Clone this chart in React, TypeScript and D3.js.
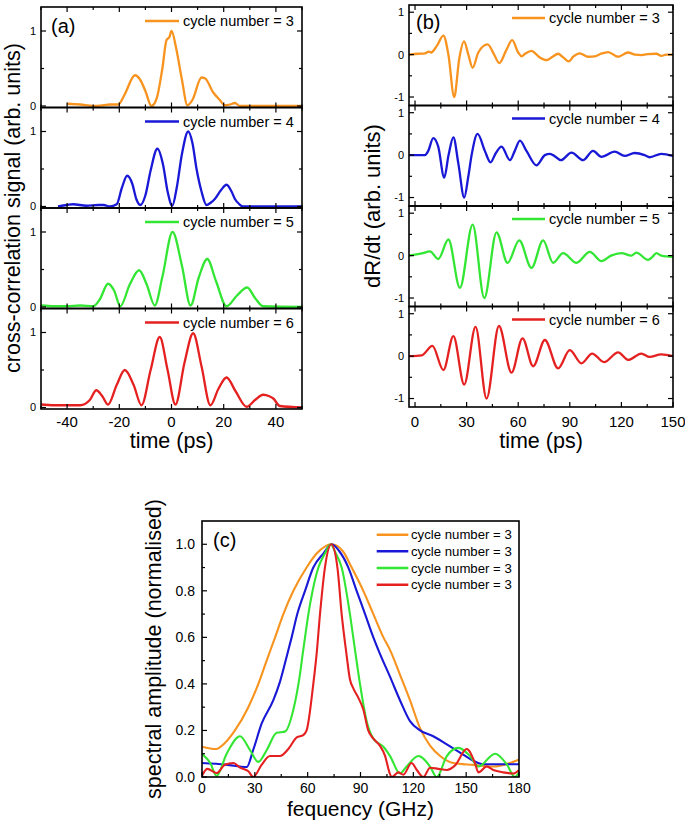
import React from 'react';
import * as d3 from 'd3';

type P = [number, number][];

const FONT = '"Liberation Sans", Arial, Helvetica, sans-serif';
const COLORS = ['#F7931E', '#1818D6', '#33E633', '#E52020'];
const CYCLES_AB = ['3', '4', '5', '6'];
const CYCLES_C = ['3', '3', '3', '3'];

// Panel (a) ticks
const A_X_MAJOR = [-40, -20, 0, 20, 40];
const A_X_MINOR = [-50, -30, -10, 10, 30, 50];
const A_Y_MAJOR = [0, 1];
const A_Y_MINOR = [0.5];
// Panel (b) ticks
const B_X_MAJOR = [0, 30, 60, 90, 120, 150];
const B_X_MINOR = [15, 45, 75, 105, 135];
const B_Y_MAJOR = [-1, 0, 1];
const B_Y_MINOR = [-0.5, 0.5];
// Panel (c) ticks
const C_X_MAJOR = [0, 30, 60, 90, 120, 150, 180];
const C_X_MINOR = [15, 45, 75, 105, 135, 165];
const C_Y_MAJOR = [0, 0.2, 0.4, 0.6, 0.8, 1.0];
const C_Y_MINOR = [0.1, 0.3, 0.5, 0.7, 0.9];

// (a) cross-correlation signal vs time (ps)
const A3: P = [[-40,0.03],[-35,0.02],[-30,0.0],[-26,0.01],[-23.6,0.02],[-20.4,0.02],[-18,0.15],[-14,0.41],[-12,0.35],[-10,0.2],[-7.7,0.0],[-5.7,0.1],[-3.5,0.5],[-1.9,0.88],[-0.8,0.92],[0,1.0],[1.9,0.75],[4,0.35],[6.1,0.01],[8,0.08],[11.5,0.38],[12.8,0.37],[16,0.18],[18.5,0.08],[20.4,0.01],[22.5,0.02],[24.3,0.04],[26.2,0.0],[50,0.0]];
const A4: P = [[-43.5,0.0],[-40,0.02],[-37.7,0.03],[-32.6,0.01],[-28,0.02],[-26,0.02],[-23.6,0.0],[-21,0.03],[-19,0.25],[-17,0.41],[-15,0.3],[-13.5,0.1],[-11.9,0.02],[-10,0.15],[-8,0.48],[-5.4,0.77],[-3.2,0.55],[-1.5,0.2],[0.3,0.01],[2,0.25],[4,0.7],[6.4,1.0],[8,0.85],[9.6,0.5],[11.5,0.2],[13.4,0.02],[15,0.05],[16.6,0.1],[19,0.22],[21.1,0.29],[23,0.2],[24.3,0.1],[26,0.03],[27.5,0.0],[50,0.0]];
const A5: P = [[-50,0.02],[-45,0.01],[-40,0.01],[-35,0.02],[-30,0.01],[-27.5,0.1],[-24.3,0.31],[-22,0.22],[-19.6,0.01],[-16,0.3],[-12.4,0.49],[-9.5,0.3],[-6.4,0.02],[-3.5,0.4],[0.4,1.0],[4,0.55],[7.3,0.02],[10.5,0.4],[13.7,0.64],[17,0.35],[21.1,0.01],[25,0.15],[29,0.26],[32,0.12],[35.1,0.01],[50,0.0]];
const A6: P = [[-50,0.04],[-45,0.03],[-40,0.03],[-35,0.03],[-31.3,0.1],[-28.8,0.23],[-26.5,0.15],[-24.3,0.04],[-21,0.3],[-17.9,0.5],[-14.5,0.3],[-11.5,0.03],[-8,0.5],[-4.5,0.94],[-1.5,0.5],[1.5,0.04],[5,0.6],[8.3,0.99],[11.5,0.55],[14.9,0.03],[18,0.25],[21.1,0.4],[24.5,0.22],[28.8,0.01],[32,0.1],[35.1,0.17],[37.5,0.15],[39,0.12],[41.5,0.02],[50,0.0]];

// (b) dR/dt vs time (ps)
const B3: P = [[-3.5,0],[2,0.02],[5.8,0.03],[8,0.07],[9.3,0.05],[12.6,0.2],[16.5,0.45],[19.4,0.0],[22.8,-1.0],[25.7,-0.1],[28.5,0.31],[31,0.0],[33.5,-0.31],[36.8,0.05],[42.2,0.24],[46,0.0],[49,-0.2],[53,0.1],[56.5,0.34],[60,0.05],[62,-0.04],[64,0.02],[67.7,0.09],[72,-0.05],[76.5,-0.13],[80,-0.05],[83.2,0.02],[86,-0.06],[89.4,-0.16],[92,-0.05],[95.8,0.03],[100.6,-0.05],[104.5,-0.04],[108,0.02],[112.3,0.06],[118,-0.05],[123.9,0.05],[128,0.0],[131.6,-0.01],[135,0.01],[140.3,0.02],[143.2,-0.03],[146,0.0],[150,0.0]];
const B4: P = [[-3.5,0],[5.8,0.0],[7.7,0.1],[10.6,0.4],[13.5,0.2],[17,-0.53],[19.5,0.0],[22.3,0.42],[25.2,-0.2],[28.6,-1.0],[31,-0.5],[32.9,0.0],[36.4,0.5],[40.6,0.1],[43.9,-0.17],[47,0.05],[50.3,0.2],[55.2,-0.12],[58,0.1],[61,0.34],[64.8,0.1],[70.6,-0.24],[75.5,0.0],[78.4,0.03],[80.3,0.0],[84.8,-0.12],[91,0.06],[97.7,-0.12],[103.5,0.1],[108.4,-0.04],[116.1,0.08],[121.9,-0.02],[127.7,0.05],[133.5,0.0],[136.4,-0.05],[143.2,0.03],[150,-0.02]];
const B5: P = [[-3.5,0],[3.9,0.05],[8.7,0.1],[13.5,-0.08],[19.4,0.38],[26.1,-0.76],[33.5,0.73],[40.3,-1.0],[47.4,0.55],[53.8,-0.17],[60.6,0.36],[67.7,-0.29],[74.5,0.36],[80.3,-0.17],[86.1,0.06],[93.9,-0.17],[101.6,0.09],[108.4,-0.13],[114,0.0],[120,0.06],[125.8,0.0],[128.7,0.07],[135.5,-0.1],[138,-0.03],[140.3,0.06],[143.2,0.0],[150,-0.03]];
const B6: P = [[-3.5,0],[3.9,0.02],[10.1,0.24],[16.5,-0.33],[22.3,0.47],[28.6,-0.67],[35.2,0.69],[41.6,-1.0],[48.8,0.71],[56.1,-0.39],[62.5,0.42],[68.7,-0.24],[75.5,0.38],[83.2,-0.29],[90,0.14],[96.8,-0.17],[103,0.06],[109.9,-0.14],[118.1,0.09],[123.9,-0.09],[131.6,0.06],[136.4,-0.02],[143.2,0.04],[150,0.0]];

// (c) spectral amplitude vs frequency (GHz)
const C_ORANGE: P = [[0,0.13],[8,0.12],[13,0.146],[18.7,0.2],[26.3,0.3],[32,0.4],[36.7,0.5],[41.5,0.6],[46.2,0.7],[51.9,0.8],[59.4,0.9],[65.1,0.96],[73.6,1.0],[80,0.97],[85,0.9],[91.6,0.8],[97.3,0.7],[103,0.6],[106.8,0.545],[112.4,0.44],[118.1,0.33],[123.8,0.21],[129.5,0.135],[135.2,0.09],[142.7,0.06],[154,0.052],[165.4,0.045],[174.9,0.06],[180,0.075]];
const C_BLUE: P = [[0,0.06],[13.6,0.053],[25.4,0.043],[29.1,0.117],[33.9,0.23],[40.5,0.33],[44.3,0.41],[48.5,0.53],[50.9,0.6],[54.1,0.7],[58.5,0.8],[63.2,0.9],[68.9,0.96],[73.6,1.0],[78,0.97],[83.1,0.9],[87.8,0.8],[92.6,0.7],[97.3,0.6],[101,0.53],[106.8,0.43],[112.4,0.33],[118.1,0.24],[123.8,0.2],[131.3,0.175],[139,0.14],[146.5,0.105],[154,0.07],[159.7,0.055],[180,0.055]];
const C_GREEN: P = [[0,0.1],[4.7,0.06],[8.3,0.005],[14,0.1],[21.6,0.175],[27.3,0.115],[32,0.065],[36.7,0.115],[42.4,0.19],[47.1,0.195],[51.9,0.29],[55.6,0.44],[57.2,0.53],[58.5,0.6],[60.4,0.7],[62.8,0.8],[66.1,0.9],[69.8,0.96],[73,1.0],[76,0.96],[79.3,0.9],[84,0.7],[86.9,0.545],[89.7,0.4],[93.5,0.24],[97.3,0.165],[103,0.13],[106.8,0.09],[112.4,0.015],[116.2,0.045],[122.8,0.09],[129.5,0.045],[133.3,0.0],[139,0.09],[145.5,0.125],[152.2,0.09],[156.9,0.045],[166.4,0.1],[173,0.055],[177.7,0.0],[180,0.02]];
const C_RED: P = [[0,0.005],[3,0.035],[8.3,0.017],[13,0.053],[17.8,0.06],[21.6,0.04],[26.3,0.025],[29.1,0.0],[33.9,0.053],[38.6,0.09],[44.3,0.09],[49,0.12],[53.8,0.17],[57.5,0.18],[59.4,0.2],[63.2,0.4],[65.1,0.53],[67,0.7],[69.8,0.9],[73.4,1.0],[76.9,0.9],[79.3,0.7],[82,0.53],[84,0.42],[86,0.38],[88.8,0.34],[91.6,0.29],[94.4,0.2],[97.3,0.165],[101,0.135],[104,0.09],[106.4,0.02],[107.7,0.0],[111.5,0.02],[114.3,0.01],[119,0.06],[122,0.03],[125.7,0.0],[129.5,0.04],[134.2,0.035],[139,0.03],[143.7,0.05],[150.3,0.12],[155,0.06],[156.9,0.02],[161.7,0.045],[165.4,0.03],[171,0.02],[176.8,0.015],[180,0.03]];

const SERIES_A = [A3, A4, A5, A6];
const SERIES_B = [B3, B4, B5, B6];
const SERIES_C = [C_ORANGE, C_BLUE, C_GREEN, C_RED];

interface StackProps {
  id: string;
  left: number; right: number; top: number; subH: number;
  xDomain: [number, number]; yDomain: [number, number];
  xMajor: number[]; xMinor: number[]; yMajor: number[]; yMinor: number[];
  series: P[];
  legendLine: [number, number]; legendText: number; legendDy: number;
  tag: string; tagX: number; tagY: number;
  xTitle: string; xTitleY: number; xLabelY: number;
  yTitle: string; yTitleX: number; yTitleSize: number; yLabelX: number;
}

function Stack(p: StackProps) {
  const x = d3.scaleLinear().domain(p.xDomain).range([p.left, p.right]);
  const bottom = p.top + p.subH * p.series.length;
  const els: React.ReactNode[] = [];
  p.series.forEach((data, i) => {
    const t = p.top + i * p.subH;
    const b = t + p.subH;
    const y = d3.scaleLinear().domain(p.yDomain).range([b, t]);
    const line = d3.line<[number, number]>().x(d => x(d[0])).y(d => y(d[1])).curve(d3.curveMonotoneX);
    const cid = `${p.id}clip${i}`;
    els.push(
      <g key={`s${i}`}>
        <clipPath id={cid}><rect x={p.left} y={t} width={p.right - p.left} height={p.subH} /></clipPath>
        <path d={line(data) || ''} fill="none" stroke={COLORS[i]} strokeWidth={2.3} strokeLinejoin="round" clipPath={`url(#${cid})`} />
        {p.xMajor.map(v => (
          <g key={`xm${v}`}>
            <line x1={x(v)} x2={x(v)} y1={t} y2={t + 5} stroke="#000" strokeWidth={1.2} />
            <line x1={x(v)} x2={x(v)} y1={b} y2={b - 5} stroke="#000" strokeWidth={1.2} />
          </g>
        ))}
        {p.xMinor.map(v => (
          <g key={`xn${v}`}>
            <line x1={x(v)} x2={x(v)} y1={t} y2={t + 3} stroke="#000" strokeWidth={1.2} />
            <line x1={x(v)} x2={x(v)} y1={b} y2={b - 3} stroke="#000" strokeWidth={1.2} />
          </g>
        ))}
        {p.yMajor.map(v => (
          <g key={`ym${v}`}>
            <line x1={p.left} x2={p.left + 5} y1={y(v)} y2={y(v)} stroke="#000" strokeWidth={1.2} />
            <line x1={p.right} x2={p.right - 5} y1={y(v)} y2={y(v)} stroke="#000" strokeWidth={1.2} />
            <text x={p.yLabelX} y={y(v)} dy="0.36em" textAnchor="end" fontSize={11} fontFamily={FONT}>{v}</text>
          </g>
        ))}
        {p.yMinor.map(v => (
          <g key={`yn${v}`}>
            <line x1={p.left} x2={p.left + 3} y1={y(v)} y2={y(v)} stroke="#000" strokeWidth={1.2} />
            <line x1={p.right} x2={p.right - 3} y1={y(v)} y2={y(v)} stroke="#000" strokeWidth={1.2} />
          </g>
        ))}
        <line x1={p.legendLine[0]} x2={p.legendLine[1]} y1={t + p.legendDy} y2={t + p.legendDy} stroke={COLORS[i]} strokeWidth={2.6} />
        <text x={p.legendText} y={t + p.legendDy} dy="0.36em" fontSize={14.5} fontFamily={FONT}>{`cycle number = ${CYCLES_AB[i]}`}</text>
        <rect x={p.left} y={t} width={p.right - p.left} height={p.subH} fill="none" stroke="#000" strokeWidth={1.6} />
      </g>
    );
  });
  return (
    <g>
      {els}
      {p.xMajor.map(v => (
        <text key={`xl${v}`} x={x(v)} y={p.xLabelY} textAnchor="middle" fontSize={15} fontFamily={FONT}>{v}</text>
      ))}
      <text x={(p.left + p.right) / 2} y={p.xTitleY} textAnchor="middle" fontSize={21.5} fontFamily={FONT}>{p.xTitle}</text>
      <text transform={`translate(${p.yTitleX},${(p.top + bottom) / 2}) rotate(-90)`} textAnchor="middle" fontSize={p.yTitleSize} fontFamily={FONT}>{p.yTitle}</text>
      <text x={p.tagX} y={p.tagY} fontSize={20} fontFamily={FONT}>{p.tag}</text>
    </g>
  );
}

function PanelC() {
  const left = 202, right = 519, top = 521, bottom = 777;
  const x = d3.scaleLinear().domain([0, 180]).range([left, right]);
  const y = d3.scaleLinear().domain([0, 1.1]).range([bottom, top]);
  const line = d3.line<[number, number]>().x(d => x(d[0])).y(d => y(d[1])).curve(d3.curveMonotoneX);
  const legendY = [534.7, 551.3, 568, 584.7];
  return (
    <g>
      <clipPath id="clipc"><rect x={left} y={top} width={right - left} height={bottom - top} /></clipPath>
      {SERIES_C.map((d, i) => (
        <path key={i} d={line(d) || ''} fill="none" stroke={COLORS[i]} strokeWidth={2.1} clipPath="url(#clipc)" />
      ))}
      {C_X_MAJOR.map(v => (
        <g key={`xm${v}`}>
          <line x1={x(v)} x2={x(v)} y1={bottom} y2={bottom - 5} stroke="#000" strokeWidth={1.2} />
          <text x={x(v)} y={793} textAnchor="middle" fontSize={14} fontFamily={FONT}>{v}</text>
        </g>
      ))}
      {C_X_MINOR.map(v => (
        <line key={`xn${v}`} x1={x(v)} x2={x(v)} y1={bottom} y2={bottom - 3} stroke="#000" strokeWidth={1.2} />
      ))}
      {C_Y_MAJOR.map(v => (
        <g key={`ym${v}`}>
          <line x1={left} x2={left + 5} y1={y(v)} y2={y(v)} stroke="#000" strokeWidth={1.2} />
          <text x={195} y={y(v)} dy="0.36em" textAnchor="end" fontSize={14} fontFamily={FONT}>{v.toFixed(1)}</text>
        </g>
      ))}
      {C_Y_MINOR.map(v => (
        <line key={`yn${v}`} x1={left} x2={left + 3} y1={y(v)} y2={y(v)} stroke="#000" strokeWidth={1.2} />
      ))}
      {CYCLES_C.map((c, i) => (
        <g key={`lg${i}`}>
          <line x1={376.7} x2={408.3} y1={legendY[i]} y2={legendY[i]} stroke={COLORS[i]} strokeWidth={2.4} />
          <text x={411} y={legendY[i]} dy="0.36em" fontSize={13.2} fontFamily={FONT}>{`cycle number = ${c}`}</text>
        </g>
      ))}
      <rect x={left} y={top} width={right - left} height={bottom - top} fill="none" stroke="#000" strokeWidth={1.6} />
      <text x={213} y={547} fontSize={20} fontFamily={FONT}>(c)</text>
      <text x={(left + right) / 2} y={816} textAnchor="middle" fontSize={21} fontFamily={FONT}>fequency (GHz)</text>
      <text transform={`translate(161,${(top + bottom) / 2}) rotate(-90)`} textAnchor="middle" fontSize={21.5} fontFamily={FONT}>spectral amplitude (normalised)</text>
    </g>
  );
}

export default function App() {
  return (
    <svg width={685} height={825} style={{ position: 'absolute', left: 0, top: 0, background: '#fff' }}>
      <rect x={0} y={0} width={685} height={825} fill="#fff" />
      <Stack id="a" left={41} right={302} top={7} subH={100.5}
        xDomain={[-50, 50]} yDomain={[-0.02, 1.32]}
        xMajor={A_X_MAJOR} xMinor={A_X_MINOR} yMajor={A_Y_MAJOR} yMinor={A_Y_MINOR}
        series={SERIES_A} legendLine={[145, 179]} legendText={183} legendDy={14}
        tag="(a)" tagX={51} tagY={33}
        xTitle="time (ps)" xTitleY={448} xLabelY={427}
        yTitle="cross-correlation signal (arb. units)" yTitleX={20} yTitleSize={21.5} yLabelX={36} />
      <Stack id="b" left={409} right={673} top={5} subH={100.5}
        xDomain={[-3.5, 150]} yDomain={[-1.2, 1.17]}
        xMajor={B_X_MAJOR} xMinor={B_X_MINOR} yMajor={B_Y_MAJOR} yMinor={B_Y_MINOR}
        series={SERIES_B} legendLine={[512, 545]} legendText={549} legendDy={13}
        tag="(b)" tagX={416} tagY={29}
        xTitle="time (ps)" xTitleY={448} xLabelY={427}
        yTitle="dR/dt (arb. units)" yTitleX={380} yTitleSize={22} yLabelX={404} />
      <PanelC />
    </svg>
  );
}
